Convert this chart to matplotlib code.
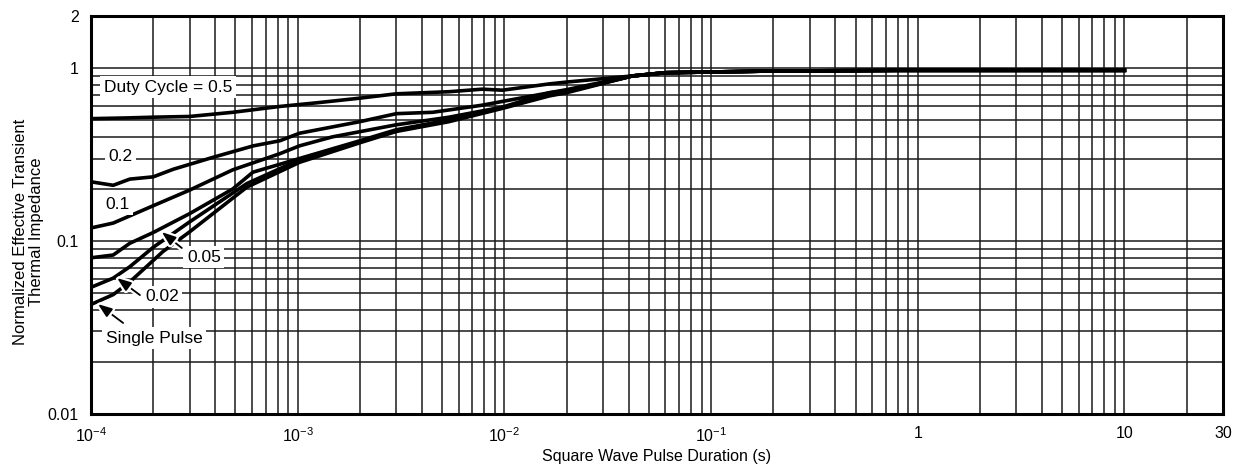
import matplotlib
matplotlib.use("Agg")
import matplotlib.pyplot as plt
import matplotlib.patheffects as pe
from matplotlib.ticker import FixedLocator, NullFormatter

plt.rcParams['font.family'] = ['Liberation Sans', 'DejaVu Sans']
plt.rcParams['mathtext.fontset'] = 'custom'
plt.rcParams['mathtext.rm'] = 'Liberation Sans'
plt.rcParams['mathtext.it'] = 'Liberation Sans'
plt.rcParams['mathtext.default'] = 'regular'

# ---- data ----
x_d05 = [1e-4, 1.5e-4, 2e-4, 3e-4, 4.85e-4, 8.2e-4, 1.24e-3, 2e-3, 3e-3, 5.4e-3, 7.8e-3, 9.8e-3,
         1.65e-2, 2e-2, 4.15e-2, 6e-2, 0.18, 0.8, 10]
y_d05 = [0.51, 0.515, 0.52, 0.525, 0.555, 0.60, 0.63, 0.67, 0.71, 0.73, 0.755, 0.745,
         0.81, 0.83, 0.90, 0.94, 0.96, 0.97, 0.97]

x_d02 = [1e-4, 1.28e-4, 1.54e-4, 2e-4, 2.5e-4, 3.9e-4, 6.1e-4, 8.2e-4, 1.02e-3, 2e-3, 3e-3, 4.5e-3,
         7.8e-3, 1.65e-2, 2e-2, 4.15e-2, 6e-2, 0.18, 0.8, 10]
y_d02 = [0.22, 0.21, 0.228, 0.235, 0.26, 0.305, 0.355, 0.38, 0.42, 0.49, 0.545, 0.555,
         0.61, 0.72, 0.75, 0.90, 0.94, 0.96, 0.97, 0.97]

x_d01 = [1e-4, 1.28e-4, 2e-4, 3e-4, 4.85e-4, 8.2e-4, 1.02e-3, 1.47e-3, 3e-3, 5.4e-3, 9.8e-3,
         1.65e-2, 2e-2, 4.15e-2, 6e-2, 0.18, 0.8, 10]
y_d01 = [0.119, 0.127, 0.16, 0.197, 0.258, 0.32, 0.355, 0.40, 0.47, 0.52, 0.595,
         0.72, 0.74, 0.90, 0.94, 0.96, 0.97, 0.97]

x_d005 = [1e-4, 1.28e-4, 1.54e-4, 2e-4, 3e-4, 4.85e-4, 6.07e-4, 1.02e-3, 2e-3, 3e-3, 5.4e-3, 9.8e-3,
          1.65e-2, 2e-2, 4.15e-2, 6e-2, 0.18, 0.8, 10]
y_d005 = [0.080, 0.083, 0.097, 0.112, 0.144, 0.20, 0.25, 0.30, 0.38, 0.44, 0.50, 0.59,
          0.70, 0.73, 0.90, 0.94, 0.96, 0.97, 0.97]

x_d002 = [1e-4, 1.28e-4, 1.54e-4, 2e-4, 3e-4, 5.68e-4, 1.02e-3, 2e-3, 3e-3, 5.4e-3, 9.8e-3,
          1.65e-2, 2e-2, 4.15e-2, 6e-2, 0.18, 0.8, 10]
y_d002 = [0.054, 0.061, 0.071, 0.092, 0.129, 0.215, 0.295, 0.375, 0.435, 0.50, 0.59,
          0.70, 0.73, 0.90, 0.94, 0.96, 0.97, 0.97]

x_single = [1e-4, 1.28e-4, 1.54e-4, 2.23e-4, 3e-4, 5.68e-4, 1.02e-3, 2e-3, 3e-3, 5.4e-3, 9.8e-3,
            1.65e-2, 2e-2, 4.15e-2, 6e-2, 0.18, 0.8, 10]
y_single = [0.043, 0.049, 0.058, 0.087, 0.113, 0.205, 0.285, 0.37, 0.43, 0.49, 0.585,
            0.69, 0.72, 0.90, 0.94, 0.96, 0.97, 0.97]

x_major = [1e-4, 1e-3, 1e-2, 1e-1, 1, 10, 30]
x_major_labels = ['$10^{-4}$', '$10^{-3}$', '$10^{-2}$', '$10^{-1}$', '1', '10', '30']
y_major = [0.01, 0.1, 1, 2]
y_major_labels = ['0.01', '0.1', '1', '2']

# ---- figure ----
fig = plt.figure(figsize=(12.35, 4.72), dpi=100)
ax = fig.add_axes([0.0737, 0.1229, 0.9166, 0.8432])
ax.set_xscale('log')
ax.set_yscale('log')
ax.set_xlim(1e-4, 30)
ax.set_ylim(0.01, 2)

x_minor = [m * d for d in [1e-4, 1e-3, 1e-2, 1e-1, 1] for m in range(2, 10)] + [20]
y_minor = [m * d for d in [0.01, 0.1] for m in range(2, 10)]
ax.xaxis.set_major_locator(FixedLocator(x_major))
ax.xaxis.set_minor_locator(FixedLocator(x_minor))
ax.yaxis.set_major_locator(FixedLocator(y_major))
ax.yaxis.set_minor_locator(FixedLocator(y_minor))
ax.set_xticklabels(x_major_labels)
ax.set_yticklabels(y_major_labels)
ax.xaxis.set_minor_formatter(NullFormatter())
ax.yaxis.set_minor_formatter(NullFormatter())
ax.tick_params(which='both', length=0, labelsize=11.5, colors='black')
ax.tick_params(axis='x', pad=9)
ax.tick_params(axis='y', pad=9)

ax.grid(True, which='both', color='0.1', linewidth=1.1)
ax.set_axisbelow(True)
for s in ax.spines.values():
    s.set_linewidth(2.2)
    s.set_color('black')

lw = 2.6
for xs_, ys_ in [(x_d05, y_d05), (x_d02, y_d02), (x_d01, y_d01),
                 (x_d005, y_d005), (x_d002, y_d002), (x_single, y_single)]:
    ax.plot(xs_, ys_, color='black', linewidth=lw, solid_joinstyle='round', zorder=3)

box = dict(facecolor='white', edgecolor='none', pad=2.5)
fs = 12.5
ax.text(1.155e-4, 0.777, 'Duty Cycle = 0.5', fontsize=fs, ha='left', va='center', bbox=box, zorder=5)
ax.text(1.22e-4, 0.310, '0.2', fontsize=fs, ha='left', va='center', bbox=box, zorder=5)
ax.text(1.168e-4, 0.1637, '0.1', fontsize=fs, ha='left', va='center', bbox=box, zorder=5)
ax.text(2.91e-4, 0.0808, '0.05', fontsize=fs, ha='left', va='center', bbox=box, zorder=5)
ax.text(1.824e-4, 0.0475, '0.02', fontsize=fs, ha='left', va='center', bbox=box, zorder=5)
ax.text(1.18e-4, 0.0275, 'Single Pulse', fontsize=fs, ha='left', va='center', bbox=box, zorder=5)

arrow = dict(arrowstyle='-|>,head_length=0.6,head_width=0.22', color='black', lw=1.3,
             mutation_scale=14, shrinkA=0, shrinkB=0,
             path_effects=[pe.withStroke(linewidth=4.5, foreground='white')])
ax.annotate('', xy=(2.20e-4, 0.1127), xytext=(2.75e-4, 0.0911), arrowprops=arrow, zorder=6)
ax.annotate('', xy=(1.336e-4, 0.0611), xytext=(1.725e-4, 0.0487), arrowprops=arrow, zorder=6)
ax.annotate('', xy=(1.08e-4, 0.0432), xytext=(1.43e-4, 0.0336), arrowprops=arrow, zorder=6)

ax.set_xlabel('Square Wave Pulse Duration (s)', fontsize=11.5, labelpad=3)
ax.set_ylabel('Normalized Effective Transient\nThermal Impedance', fontsize=12,
              linespacing=1.05)
ax.yaxis.set_label_coords(-0.0415, 0.457)

fig.savefig('out.png', dpi=100)
